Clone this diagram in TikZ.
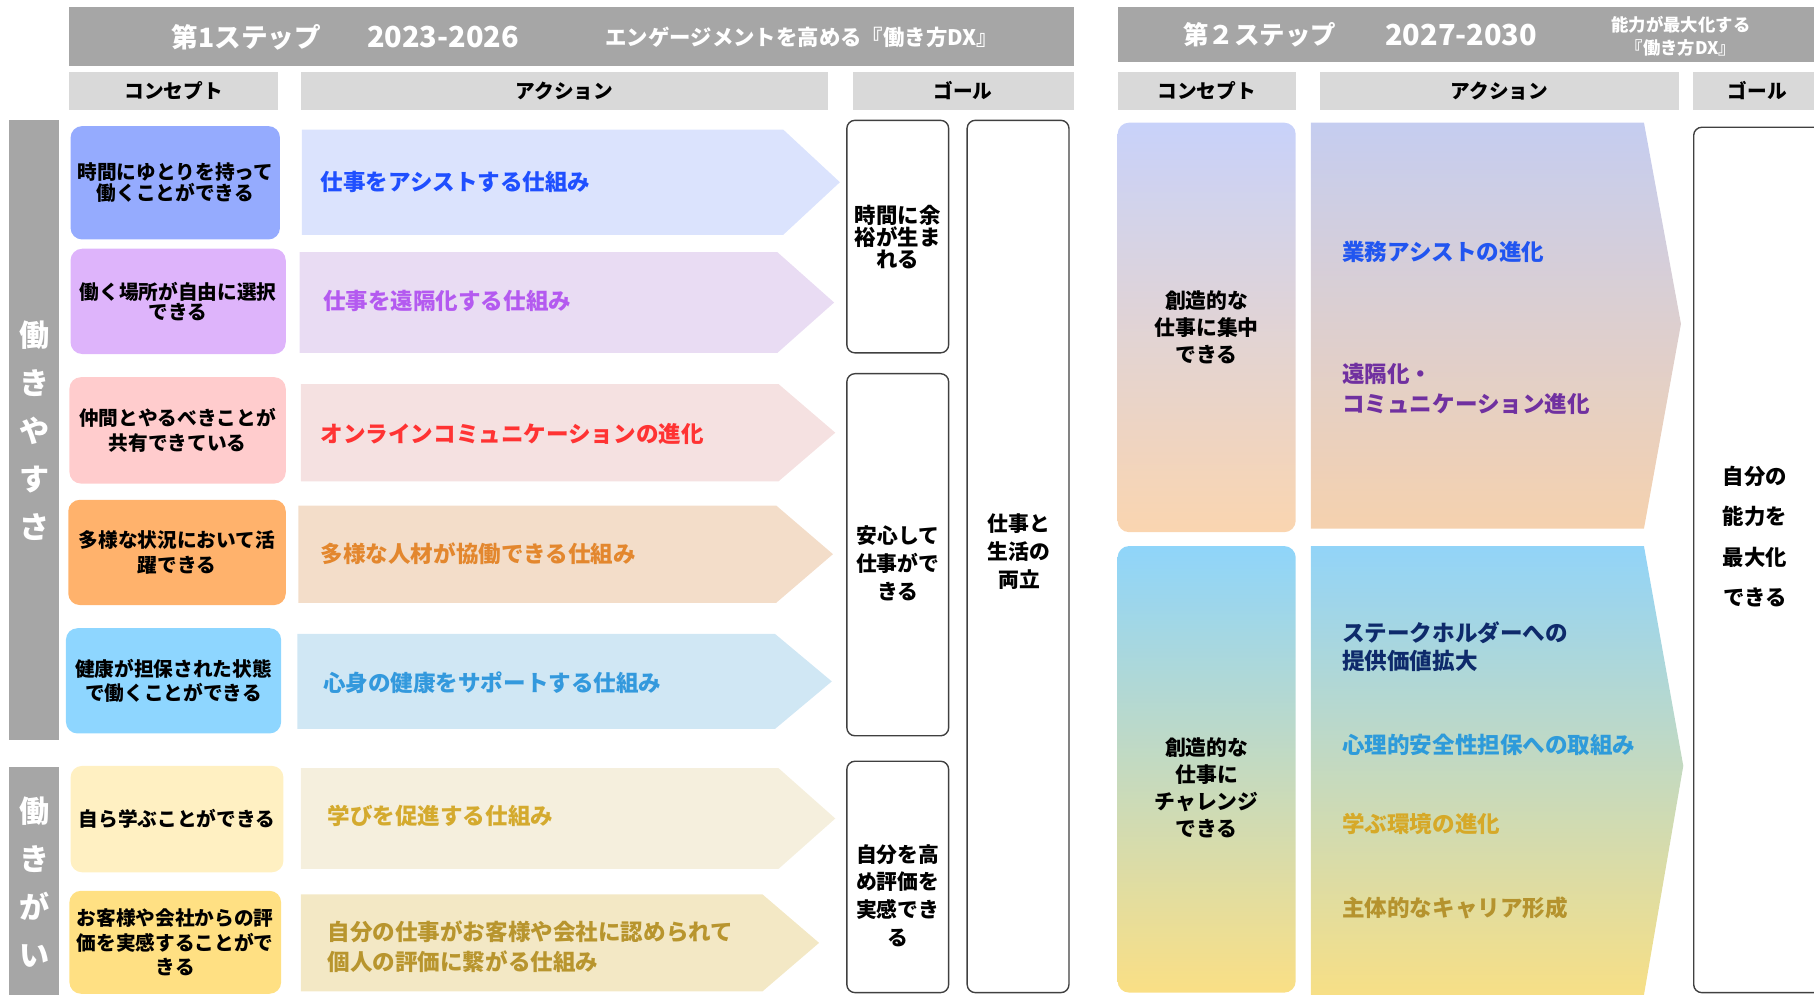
\documentclass[tikz,border=0pt]{standalone}
\usepackage{fontspec}
\setmainfont{Noto Sans CJK JP}
\usetikzlibrary{positioning}

\definecolor{hdrgray}{HTML}{A6A6A6}
\definecolor{subgray}{HTML}{D9D9D9}
\definecolor{goalline}{HTML}{404040}
\definecolor{cA}{HTML}{95ABFE}
\definecolor{cB}{HTML}{DEB4FB}
\definecolor{cC}{HTML}{FFCCCD}
\definecolor{cD}{HTML}{FFB26C}
\definecolor{cE}{HTML}{8ED6FF}
\definecolor{cF}{HTML}{FFF0C2}
\definecolor{cG}{HTML}{FFE083}
\definecolor{aA}{HTML}{DBE3FD}
\definecolor{aB}{HTML}{E9DCF3}
\definecolor{aC}{HTML}{F5E1E1}
\definecolor{aD}{HTML}{F3DDC9}
\definecolor{aE}{HTML}{D0E7F4}
\definecolor{aF}{HTML}{F5EFDD}
\definecolor{aG}{HTML}{F3E8C5}
\definecolor{tA}{HTML}{1F4FFF}
\definecolor{tB}{HTML}{B45AF0}
\definecolor{tC}{HTML}{FF3333}
\definecolor{tD}{HTML}{E3872E}
\definecolor{tE}{HTML}{3399DD}
\definecolor{tF}{HTML}{D4AA2E}
\definecolor{tG}{HTML}{B8952E}
\definecolor{sAtop}{HTML}{C8D2FA}
\definecolor{sAbot}{HTML}{FAD5B0}
\definecolor{sBtop}{HTML}{8FD5FA}
\definecolor{sBbot}{HTML}{FADF85}
\definecolor{pAtop}{HTML}{C5CDF0}
\definecolor{pAbot}{HTML}{F5D1AE}
\definecolor{pBtop}{HTML}{92D4F8}
\definecolor{pBbot}{HTML}{F7DF86}
\definecolor{uA}{HTML}{2155F0}
\definecolor{uB}{HTML}{7030A0}
\definecolor{uC}{HTML}{0E2A6B}
\definecolor{uD}{HTML}{2E9BDA}
\definecolor{uE}{HTML}{D6A928}
\definecolor{uF}{HTML}{B5932E}

\tikzset{
  hdr/.style={fill=hdrgray, inner sep=0},
  htxt/.style={text=white, inner sep=0, align=center},
  sub/.style={fill=subgray, minimum height=33, inner sep=0, font=\bfseries\fontsize{17}{20}\selectfont},
  side/.style={fill=hdrgray, minimum width=43, inner sep=0, text=white, align=center, font=\bfseries\fontsize{26}{41.5}\selectfont},
  concept/.style={rounded corners=10, inner sep=0, align=center, font=\bfseries\fontsize{17}{21}\selectfont},
  acttxt/.style={anchor=west, inner sep=0, align=left, font=\bfseries\fontsize{19.5}{26}\selectfont},
  goal/.style={draw=goalline, line width=1.2, rounded corners=7, fill=white, minimum width=88, inner sep=0, align=center, font=\bfseries\fontsize{18}{24}\selectfont},
  goaltxt/.style={align=center, inner sep=0, font=\bfseries\fontsize{18}{24}\selectfont},
}

\begin{document}
\begin{tikzpicture}[x=1pt, y=-1pt]
    \useasboundingbox (0,0) rectangle (1568,860);
    \clip (0,0) rectangle (1568,860);

    \node[hdr, minimum width=868, minimum height=51] (hdr1) at (494,31.5) {};
    \node[htxt, font=\bfseries\fontsize{23}{24}\selectfont] (step1) at (213,32) {第1ステップ};
    \node[htxt, font=\bfseries\fontsize{25}{26}\selectfont] (year1) at (383,32) {2023-2026};
    \node[htxt, font=\bfseries\fontsize{18.5}{20}\selectfont] (theme1) at (693,32) {エンゲージメントを高める『働き方DX』};
    \node[hdr, minimum width=620, minimum height=48] (hdr2) at (1276,30) {};
    \node[htxt, font=\bfseries\fontsize{22}{24}\selectfont] (step2) at (1089,30) {第２ステップ};
    \node[htxt, font=\bfseries\fontsize{25}{26}\selectfont] (year2) at (1263,30) {2027-2030};
    \node[htxt, font=\bfseries\fontsize{15}{20}\selectfont] (theme2) at (1453,31) {能力が最大化する\\『働き方DX』};

    \node[sub, minimum width=180] (conc1) at (150,78.5) {コンセプト};
    \node[sub, minimum width=456] (act1) at (488,78.5) {アクション};
    \node[sub, minimum width=191] (goal1) at (832.5,78.5) {ゴール};
    \node[sub, minimum width=154] (conc2) at (1043,78.5) {コンセプト};
    \node[sub, minimum width=310] (act2) at (1296,78.5) {アクション};
    \node[sub, minimum width=120] (goal2) at (1523,78.5) {\hspace{-8pt}ゴール};

    \node[side, minimum height=536] (easy) at (29.5,372) {働\\き\\や\\す\\さ};
    \node[side, minimum height=199] (worth) at (29.5,762.5) {働\\き\\が\\い};

    \node[concept, fill=cA, minimum width=181, minimum height=98, font=\bfseries\fontsize{17}{18}\selectfont] (time) at (151.5,158) {時間にゆとりを持って\\働くことができる};
    \node[concept, fill=cB, minimum width=186, minimum height=91, font=\bfseries\fontsize{17}{17.5}\selectfont] (place) at (154,260.5) {働く場所が自由に選択\\できる};
    \node[concept, fill=cC, minimum width=187, minimum height=92] (share) at (153.5,372) {仲間とやるべきことが\\共有できている};
    \node[concept, fill=cD, minimum width=188, minimum height=91] (divers) at (153,477.5) {多様な状況において活\\躍できる};
    \node[concept, fill=cE, minimum width=186, minimum height=91] (health) at (150,588.5) {健康が担保された状態\\で働くことができる};
    \node[concept, fill=cF, minimum width=184, minimum height=92] (learn) at (153,708) {自ら学ぶことができる};
    \node[concept, fill=cG, minimum width=183, minimum height=89] (eval) at (151.5,814.5) {お客様や会社からの評\\価を実感することがで\\きる};

    \fill[aA] (261,112) -- (677,112) -- (726,157.5) -- (677,203) -- (261,203) -- cycle;
    \fill[aB] (259,218) -- (672,218) -- (721,261.5) -- (672,305) -- (259,305) -- cycle;
    \fill[aC] (260,332) -- (673,332) -- (722,374) -- (673,416) -- (260,416) -- cycle;
    \fill[aD] (258,437) -- (671,437) -- (720,479) -- (671,521) -- (258,521) -- cycle;
    \fill[aE] (257,548) -- (670,548) -- (719,589) -- (670,630) -- (257,630) -- cycle;
    \fill[aF] (260,664) -- (673,664) -- (722,707.5) -- (673,751) -- (260,751) -- cycle;
    \fill[aG] (260,773) -- (659,773) -- (708,815) -- (659,857) -- (260,857) -- cycle;

    \node[acttxt, text=tA] (assist) at (277,157) {仕事をアシストする仕組み};
    \node[acttxt, text=tB] (remote) at (279,260) {仕事を遠隔化する仕組み};
    \node[acttxt, text=tC] (online) at (277,375) {オンラインコミュニケーションの進化};
    \node[acttxt, text=tD] (collab) at (277,479) {多様な人材が協働できる仕組み};
    \node[acttxt, text=tE] (care) at (279,590) {心身の健康をサポートする仕組み};
    \node[acttxt, text=tF] (study) at (283,705) {学びを促進する仕組み};
    \node[acttxt, text=tG] (recog) at (283,818) {自分の仕事がお客様や会社に認められて\\個人の評価に繋がる仕組み};

    \node[goal, minimum height=201, font=\bfseries\fontsize{18.5}{19}\selectfont] (spare) at (776,204.5) {時間に余\\裕が生ま\\れる};
    \node[goal, minimum height=313] (safe) at (776,479.5) {};
    \node[goaltxt] (safetxt) at (776,487) {安心して\\仕事がで\\きる};
    \node[goal, minimum height=200] (grow) at (776,758) {};
    \node[goaltxt] (growtxt) at (776,774) {自分を高\\め評価を\\実感でき\\る};
    \node[goal, minimum height=754] (balance) at (880,481) {};
    \node[goaltxt] (balancetxt) at (881,477) {仕事と\\生活の\\両立};

    \node[concept, top color=sAtop, bottom color=sAbot, minimum width=154, minimum height=354, font=\bfseries\fontsize{18}{23.5}\selectfont] (focus) at (1043,283) {創造的な\\仕事に集中\\できる};
    \node[concept, top color=sBtop, bottom color=sBbot, minimum width=154, minimum height=386] (chall) at (1043,665) {};
    \node[goaltxt, font=\bfseries\fontsize{18}{23.5}\selectfont] (challtxt) at (1043,681) {創造的な\\仕事に\\チャレンジ\\できる};

    \shade[top color=pAtop, bottom color=pAbot] (1133,106) -- (1421,106) -- (1453,280) -- (1421,457) -- (1133,457) -- cycle;
    \shade[top color=pBtop, bottom color=pBbot] (1133,472) -- (1421,472) -- (1455,662) -- (1421,860) -- (1133,860) -- cycle;

    \node[acttxt, text=uA] (bizassist) at (1160,218) {業務アシストの進化};
    \node[acttxt, text=uB] (remcom) at (1160,336) {遠隔化・\\コミュニケーション進化};
    \node[acttxt, text=uC, font=\bfseries\fontsize{19.5}{24}\selectfont] (stake) at (1160,559) {ステークホルダーへの\\提供価値拡大};
    \node[acttxt, text=uD] (psysafe) at (1160,644) {心理的安全性担保への取組み};
    \node[acttxt, text=uE] (learnenv) at (1160,712) {学ぶ環境の進化};
    \node[acttxt, text=uF] (career) at (1160,785) {主体的なキャリア形成};

    \node[goal, minimum width=140, minimum height=748] (maxim) at (1534,484) {};
    \node[goaltxt, font=\bfseries\fontsize{18.5}{35}\selectfont] (maximtxt) at (1517,464) {自分の\\能力を\\最大化\\できる};
\end{tikzpicture}
\end{document}
